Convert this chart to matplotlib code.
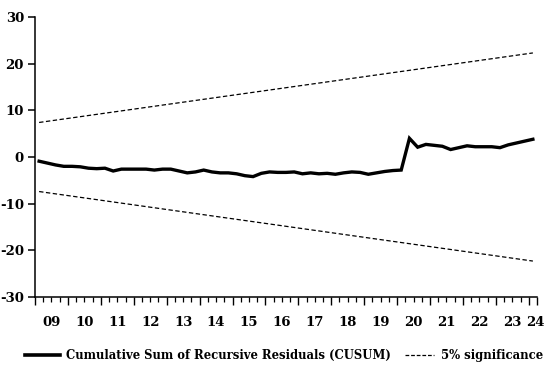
import matplotlib
matplotlib.use("Agg")
import matplotlib.pyplot as plt
import matplotlib.transforms as mtransforms
from matplotlib.lines import Line2D
import numpy as np

# Quarterly observations 2009Q1 .. 2024Q1
years = list(range(2009, 2025))
year_labels = ["09", "10", "11", "12", "13", "14", "15", "16",
               "17", "18", "19", "20", "21", "22", "23", "24"]
quarters_per_year = [4] * 15 + [1]

cusum = [
    -0.9, -1.3, -1.7, -2.0,   # 2009
    -2.0, -2.1, -2.4, -2.5,   # 2010
    -2.4, -3.0, -2.6, -2.6,   # 2011
    -2.6, -2.6, -2.8, -2.6,   # 2012
    -2.6, -3.0, -3.4, -3.2,   # 2013
    -2.8, -3.2, -3.4, -3.4,   # 2014
    -3.6, -4.0, -4.2, -3.5,   # 2015
    -3.2, -3.3, -3.3, -3.2,   # 2016
    -3.6, -3.4, -3.6, -3.5,   # 2017
    -3.7, -3.4, -3.2, -3.3,   # 2018
    -3.7, -3.4, -3.1, -2.9,   # 2019
    -2.8, 4.0, 2.1, 2.7,      # 2020
    2.5, 2.3, 1.6, 2.0,       # 2021
    2.4, 2.2, 2.2, 2.2,       # 2022
    2.0, 2.6, 3.0, 3.4,       # 2023
    3.8,                      # 2024
]

# 5% significance bounds (straight lines): start and end values
upper_bound = [7.4, 22.3]
lower_bound = [-7.4, -22.3]

y_ticks = [-30, -20, -10, 0, 10, 20, 30]

legend_cusum = "Cumulative Sum of Recursive Residuals (CUSUM)"
legend_bound = "5% significance"

font = "DejaVu Serif"
plt.rcParams["font.family"] = font
plt.rcParams["font.weight"] = "bold"

fig = plt.figure(figsize=(5.5, 3.67), dpi=100)
ax = fig.add_axes([35 / 550, 70 / 367, 502 / 550, 280 / 367])

n = len(cusum)
x = np.arange(n)
ax.plot(x, cusum, color="black", lw=2.4, solid_joinstyle="miter")
ax.plot([0, n - 1], upper_bound, color="black", lw=0.9, ls=(0, (3.5, 2)))
ax.plot([0, n - 1], lower_bound, color="black", lw=0.9, ls=(0, (3.5, 2)))

ax.set_xlim(-0.5, n - 0.5)
ax.set_ylim(-30, 30)

for s in ["top", "right"]:
    ax.spines[s].set_visible(False)
for s in ["left", "bottom"]:
    ax.spines[s].set_linewidth(1.1)

ax.set_yticks(y_ticks)
ax.set_yticklabels([str(v) for v in y_ticks], fontsize=9.5, fontweight="bold")
ax.tick_params(axis="y", direction="out", length=5, width=1.1, pad=3)

# x ticks: year boundaries major, quarter boundaries minor
bounds = [-0.5]
for q in quarters_per_year:
    bounds.append(bounds[-1] + q)
ax.set_xticks(bounds)
ax.set_xticklabels([])
ax.set_xticks(np.arange(-0.5, n, 1.0), minor=True)
ax.tick_params(axis="x", which="major", direction="out", length=6, width=1.0)
ax.tick_params(axis="x", which="minor", direction="out", length=3.5, width=0.9)

trans = mtransforms.blended_transform_factory(ax.transData, ax.transAxes)
for i, lab in enumerate(year_labels):
    c = (bounds[i] + bounds[i + 1]) / 2
    if quarters_per_year[i] == 1:
        c += 0.3
    ax.text(c, -0.068, lab, transform=trans, ha="center", va="top",
            fontsize=9.5, fontweight="bold")

# legend drawn manually in figure pixel coordinates
W, H = 550.0, 367.0
ly = 1 - 355 / H
fig.add_artist(Line2D([25 / W, 60 / W], [ly, ly], color="black", lw=2.6,
                      transform=fig.transFigure))
fig.text(66 / W, ly, legend_cusum, ha="left", va="center",
         fontsize=8.4, fontweight="bold")
fig.add_artist(Line2D([405 / W, 434 / W], [ly, ly], color="black", lw=0.9,
                      ls=(0, (3, 1.5)), transform=fig.transFigure))
fig.text(441 / W, ly, legend_bound, ha="left", va="center",
         fontsize=8.4, fontweight="bold")

fig.savefig("out.png", dpi=100)
